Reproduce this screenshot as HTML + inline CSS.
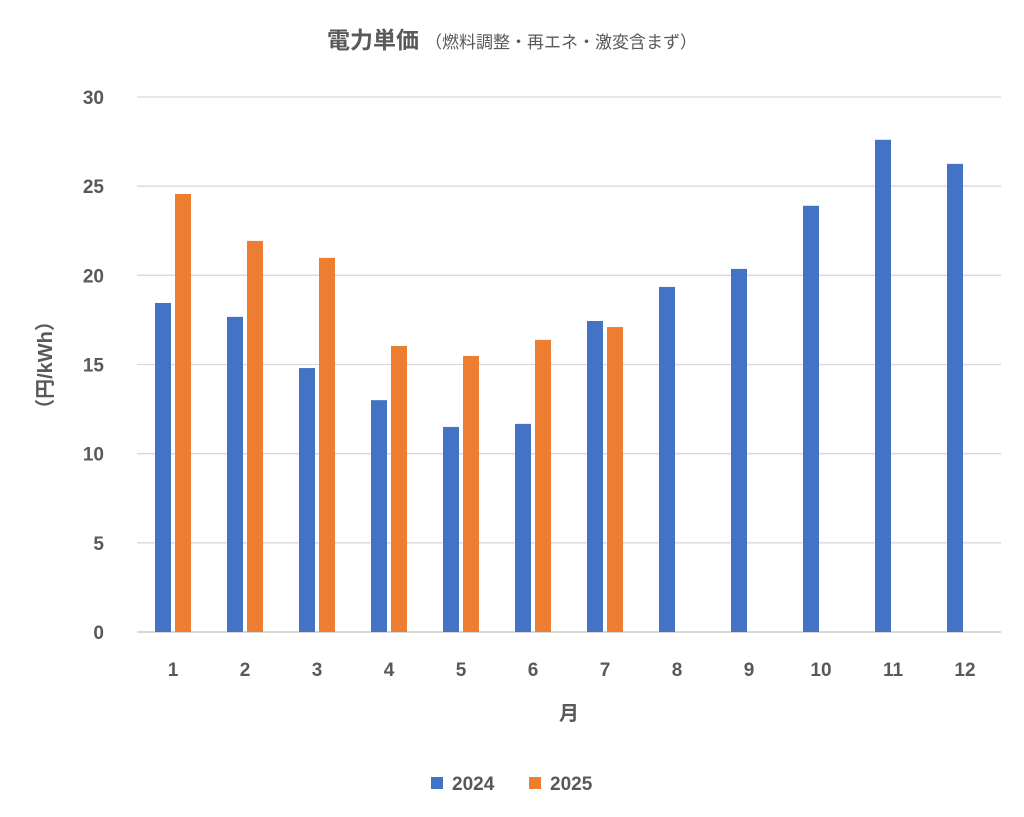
<!DOCTYPE html>
<html><head><meta charset="utf-8">
<style>
html,body{margin:0;padding:0;background:#fff;}
svg{display:block;font-family:"Liberation Sans","Noto Sans CJK JP",sans-serif;}
</style></head>
<body>
<svg id="chart" width="1024" height="817" viewBox="0 0 1024 817" xmlns="http://www.w3.org/2000/svg">
<rect width="1024" height="817" fill="#fff"/>
<text x="512" y="48" text-anchor="middle" fill="#595959"><tspan font-size="23" font-weight="bold">電力単価</tspan><tspan font-size="17" dx="6">（燃料調整・再エネ・激変含まず）</tspan></text>
<g id="grid"></g>
<g id="yticks"></g>
<g id="bars"></g>
<g id="xticks"></g>
<text transform="translate(52,365) rotate(-90)" text-anchor="middle" font-size="20" font-weight="bold" fill="#595959">（円/kWh）</text>
<text x="569" y="720" text-anchor="middle" font-size="20" font-weight="bold" fill="#595959">月</text>
<g>
<g><rect x="431" y="777" width="12" height="12" fill="#4472C4"/><text x="452" y="790" font-size="19" font-weight="bold" fill="#595959">2024</text></g>
<g><rect x="529" y="777" width="12" height="12" fill="#ED7D31"/><text x="550" y="790" font-size="19" font-weight="bold" fill="#595959">2025</text></g>
</g>
</svg>
<script>
const categories = ["1","2","3","4","5","6","7","8","9","10","11","12"];
const series2024 = [18.45,17.67,14.8,13.0,11.5,11.67,17.44,19.35,20.36,23.9,27.6,26.25];
const series2025 = [24.56,21.93,20.98,16.04,15.48,16.38,17.1,null,null,null,null,null];
const yTicks = [0,5,10,15,20,25,30];

const NS="http://www.w3.org/2000/svg";
const plotL=137, plotR=1001, plotTop=97, plotBot=632, yMax=30;
const y=v=>plotBot-(v/yMax)*(plotBot-plotTop);
const band=(plotR-plotL)/categories.length;
const xc=i=>plotL+band*(i+0.5);
const barW=16, gap=4;
function mk(tag,attrs,parent){const e=document.createElementNS(NS,tag);for(const k in attrs)e.setAttribute(k,attrs[k]);parent.appendChild(e);return e;}
const grid=document.getElementById('grid'), yt=document.getElementById('yticks'), bars=document.getElementById('bars'), xt=document.getElementById('xticks');
yTicks.forEach(t=>{
  const l=mk('line',{x1:plotL,x2:plotR,y1:y(t),y2:y(t),stroke:t===0?'#bfbfbf':'#d9d9d9','stroke-width':1.3},grid);
  
  
  const tx=mk('text',{x:104,y:y(t)+7,'text-anchor':'end','font-size':19,'font-weight':'bold',fill:'#595959'},yt);
  tx.textContent=t;
  
  
});
categories.forEach((c,i)=>{
  const v1=series2024[i];
  if(v1!=null){
    const r=mk('rect',{x:xc(i)-gap/2-barW,y:y(v1),width:barW,height:plotBot-y(v1),fill:'#4472C4'},bars);
    
    
  }
  const v2=series2025[i];
  if(v2!=null){
    const r=mk('rect',{x:xc(i)+gap/2,y:y(v2),width:barW,height:plotBot-y(v2),fill:'#ED7D31'},bars);
    
    
  }
  const tx=mk('text',{x:xc(i),y:676,'text-anchor':'middle','font-size':19,'font-weight':'bold',fill:'#595959'},xt);
  tx.textContent=c;
  
  
});
</script>
</body></html>
